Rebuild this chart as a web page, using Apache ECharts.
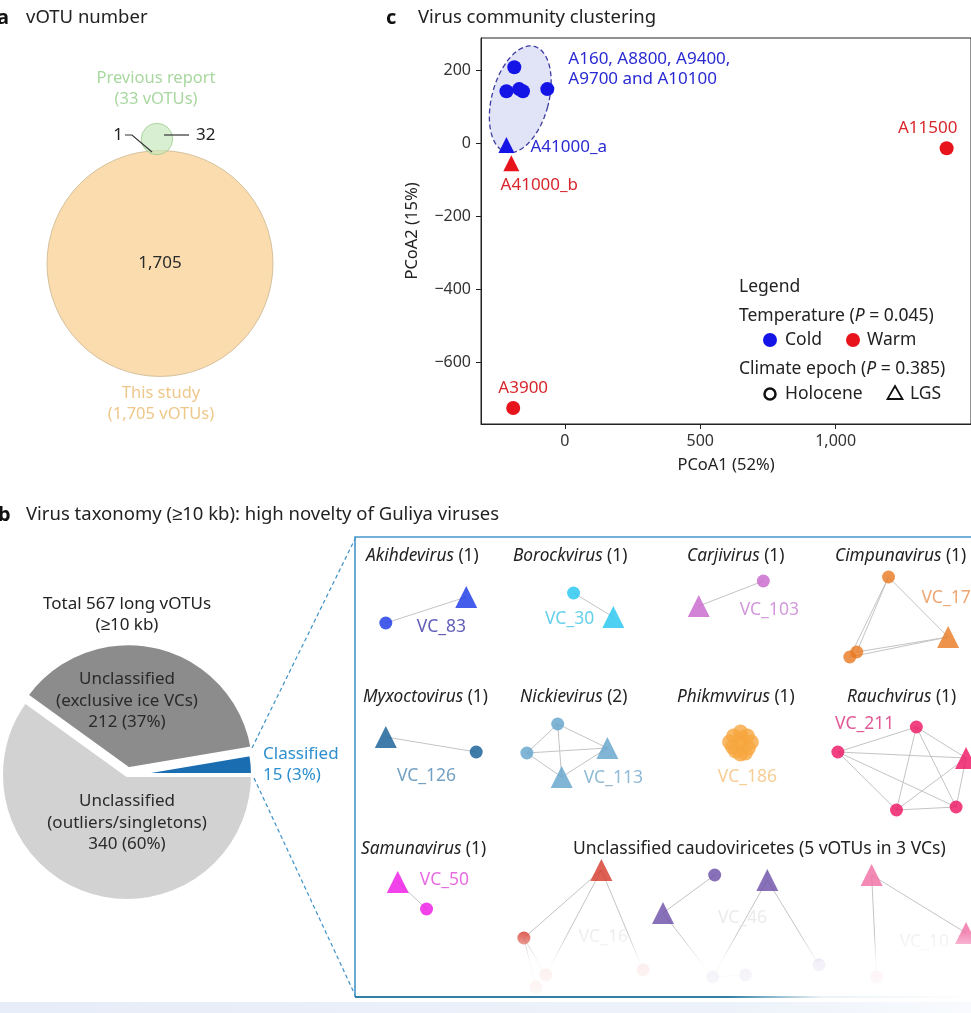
<!DOCTYPE html>
<html>
<head>
<meta charset="utf-8">
<script src="https://cdn.jsdelivr.net/npm/echarts@6/dist/echarts.min.js"></script>
<style>
html,body{margin:0;padding:0;background:#ffffff;overflow:hidden;}
#chart{width:971px;height:1013px;}
</style>
</head>
<body>
<div id="chart"></div>
<script>
// ================= DATA =================
// Panel a: Venn diagram of vOTU counts
const vennSetNames = ['This study', 'Previous report'];
const vennTotals = [1705, 33];
const vennCentreCount = 1705;
const vennSharedCount = 1;
const vennPreviousOnly = 32;
const vennLayoutX = [160, 157];      // layout units of the hidden Venn plane
const vennLayoutY = [263.5, 139];

// Panel c: PCoA of virus communities
const sampleNames = ['A160', 'A8800', 'A9400', 'A9700', 'A10100', 'A41000_a', 'A41000_b', 'A11500', 'A3900'];
const pcoa1 = [-187, -216, -169, -155, -65, -216, -198, 1410, -191];
const pcoa2 = [208, 142, 148, 142, 148, -5, -55, -14, -726];
const sampleTemperature = ['Cold', 'Cold', 'Cold', 'Cold', 'Cold', 'Cold', 'Warm', 'Warm', 'Warm'];
const sampleEpoch = ['Holocene', 'Holocene', 'Holocene', 'Holocene', 'Holocene', 'LGS', 'LGS', 'Holocene', 'Holocene'];
const pcoa1Ticks = [0, 500, 1000];
const pcoa2Ticks = [-600, -400, -200, 0, 200];
const clusterEllipse = [-165, 120, 105, 150];   // centre PCoA1, centre PCoA2, half-width, half-height
const pTemperature = 0.045;
const pEpoch = 0.385;

// Panel b: taxonomy pie
const pieNames = ['Classified', 'Unclassified', 'Unclassified'];
const pieSubNames = ['', '(outliers/singletons)', '(exclusive ice VCs)'];
const pieValues = [15, 340, 212];

// Panel b: viral-cluster networks (layout units inside the network box)
const vcNames = ['VC_83', 'VC_30', 'VC_103', 'VC_170', 'VC_126', 'VC_113', 'VC_186', 'VC_211', 'VC_50', 'VC_16', 'VC_46', 'VC_10'];
const genusNames = ['Akihdevirus', 'Borockvirus', 'Carjivirus', 'Cimpunavirus', 'Myxoctovirus', 'Nickievirus', 'Phikmvvirus', 'Rauchvirus', 'Samunavirus'];
const genusCounts = [1, 1, 1, 1, 1, 2, 1, 1, 1];
const unclassifiedTitle = 'Unclassified caudoviricetes (5 vOTUs in 3 VCs)';
const nodeX = [31, 112, 220, 260, 411, 346, 537, 597, 498, 505, 31, 122, 204, 173, 254, 208,
  388, 381, 395, 380, 396, 388, 377, 399, 388, 383, 393, 389,
  486, 565, 615, 545, 605, 43, 72,
  248, 170, 192, 290, 182,
  310, 362, 415, 360, 467, 393,
  520, 615, 525];
const nodeY = [86, 60, 56, 80, 44, 69, 40, 100, 120, 115, 200, 215, 187, 216, 211, 240,
  206, 199, 199, 210, 211, 195, 205, 205, 217, 214, 216, 201,
  215, 190, 221, 273, 270, 345, 372,
  333, 401, 438, 433, 450,
  376, 338, 343, 440, 428, 438,
  338, 396, 440];
const nodeShape = ['c', 't', 'c', 't', 'c', 't', 'c', 't', 'c', 'c', 't', 'c', 'c', 'c', 't', 't',
  'c', 'c', 'c', 'c', 'c', 'c', 'c', 'c', 'c', 'c', 'c', 'c',
  'c', 'c', 't', 'c', 'c', 't', 'c',
  't', 'c', 'c', 'c', 'c',
  't', 'c', 't', 'c', 'c', 'c',
  't', 't', 'c'];
const nodeVC = [0, 0, 1, 1, 2, 2, 3, 3, 3, 3, 4, 4, 5, 5, 5, 5,
  6, 6, 6, 6, 6, 6, 6, 6, 6, 6, 6, 6,
  7, 7, 7, 7, 7, 8, 8,
  9, 9, 9, 9, 9,
  10, 10, 10, 10, 10, 10,
  11, 11, 11];
const edges = [[0, 1], [2, 3], [4, 5],
  [6, 8], [6, 9], [6, 7], [7, 8], [7, 9],
  [10, 11],
  [12, 13], [12, 14], [12, 15], [13, 14], [13, 15], [14, 15],
  [28, 29], [28, 30], [28, 31], [28, 32], [29, 30], [29, 31], [29, 32], [30, 31], [30, 32], [31, 32],
  [33, 34],
  [35, 36], [35, 37], [35, 38], [36, 37], [36, 39],
  [40, 41], [40, 43], [42, 43], [42, 44], [43, 45],
  [46, 47], [46, 48]];
const vcLabelX = [87, 216, 417, 600, 72, 260, 395, 513, 90, 250, 390, 573];
const vcLabelY = [90, 82, 73, 61, 239, 241, 240, 187, 343, 400, 381, 405];

// ================= STYLE =================
const FONT = '"Noto Sans", "Liberation Sans", Arial, sans-serif';
const BLUE = '#1414e6', RED = '#e8141c';
const vcColors = ['#1535e6', '#20c4ef', '#c764cc', '#e9781f', '#0f5b95', '#62a2ca', '#f6a63f', '#ee1262', '#ee14e4', '#d6382b', '#6a4ea6', '#f06ba2'];
const vcLabelColors = ['#3a36a8', '#40c4e6', '#c77fd2', '#ea9150', '#5089b5', '#74a9cc', '#f4c27a', '#d8317a', '#e14ad9', '#e9e9e9', '#e6e6e6', '#ececec'];

function T(x, y, text, o) {
  o = o || {};
  const fs = o.size || 15;
  return {
    type: 'text', x: x, y: y, z: o.z || 50, silent: true,
    style: {
      text: text, fill: o.color || '#222', fontSize: fs, fontFamily: FONT,
      fontWeight: o.weight || 'normal', fontStyle: o.style || 'normal',
      align: o.align || 'left', verticalAlign: 'middle', lineHeight: o.lh || Math.round(fs * 1.35),
      rich: {
        i: { fontStyle: 'italic', fontSize: fs, fontFamily: FONT, fill: o.color || '#222' },
        n: { fontSize: fs, fontFamily: FONT, fill: o.color || '#222' }
      }
    }
  };
}
function fmtNum(v) {
  const s = Math.abs(v).toLocaleString('en-US');
  return v < 0 ? '\u2212' + s : s;
}

// ================= BUILD =================
const chart = echarts.init(document.getElementById('chart'), null, { renderer: 'canvas' });

// Venn circles: diameter proportional to sqrt(count)
const vennK = 2.736;
const vennData = vennTotals.map((n, i) => ({
  value: [vennLayoutX[i], vennLayoutY[i]],
  symbolSize: 2 * vennK * Math.sqrt(n),
  itemStyle: i === 0
    ? { color: '#fad39a', borderColor: '#cbb590', borderWidth: 1 }
    : { color: 'rgba(199,231,188,0.85)', borderColor: '#9ccc90', borderWidth: 1 }
}));

// PCoA points
function pcoaSeries(temp, color, labelColor) {
  const data = [];
  sampleNames.forEach((nm, i) => {
    if (sampleTemperature[i] !== temp) return;
    data.push({
      name: nm, value: [pcoa1[i], pcoa2[i]],
      symbol: sampleEpoch[i] === 'LGS' ? 'triangle' : 'circle',
      symbolSize: sampleEpoch[i] === 'LGS' ? 16 : 14,
      label: { show: false }
    });
  });
  return {
    type: 'scatter', name: temp, xAxisIndex: 1, yAxisIndex: 1, z: 5, silent: true,
    itemStyle: { color: color, opacity: 1 },
    label: { color: labelColor, fontSize: 17, fontFamily: FONT },
    data: data
  };
}
const coldSeries = pcoaSeries('Cold', BLUE, '#2a2ad2');
const warmSeries = pcoaSeries('Warm', RED, '#d8262c');
function setLabel(series, name, lab) {
  series.data.forEach(d => { if (d.name === name) d.label = Object.assign({ show: true, formatter: lab.text || '{b}' }, lab); });
}
setLabel(coldSeries, 'A10100', { text: 'A160, A8800, A9400,\nA9700 and A10100', position: 'right', distance: 14, offset: [0, -20], lineHeight: 20, align: 'left' });
setLabel(coldSeries, 'A41000_a', { position: 'right', distance: 16, offset: [0, 2] });
setLabel(warmSeries, 'A41000_b', { position: 'bottom', distance: 6, offset: [28, 0] });
setLabel(warmSeries, 'A11500', { position: 'top', distance: 4, offset: [-19, -1] });
setLabel(warmSeries, 'A3900', { position: 'top', distance: 4, offset: [10, 0] });

// Pie
const pieTotal = pieValues.reduce((a, b) => a + b, 0);
const pieColors = ['#1b6db2', '#d2d2d2', '#8c8c8c'];
const pieData = pieValues.map((v, i) => ({
  name: pieNames[i] + ' ' + pieSubNames[i], value: v,
  selected: i === 2,
  itemStyle: { color: pieColors[i] }
}));
const piePct = pieValues.map(v => Math.round(v / pieTotal * 100));

// Network
const netNodes = nodeX.map((x, i) => {
  const tri = nodeShape[i] === 't';
  return {
    value: [x, nodeY[i]],
    symbol: tri ? 'triangle' : 'circle',
    symbolSize: tri ? 22 : (nodeVC[i] === 6 ? 15 : 13),
    itemStyle: { color: vcColors[nodeVC[i]] }
  };
});
const netEdges = edges.map(e => ({ coords: [[nodeX[e[0]], nodeY[e[0]]], [nodeX[e[1]], nodeY[e[1]]]] }));
const netLabels = vcNames.map((nm, i) => ({
  name: nm, value: [vcLabelX[i], vcLabelY[i]],
  label: { color: vcLabelColors[i] }
}));

const hiddenAxis = { type: 'value', show: false, splitLine: { show: false } };

// Graphic elements (text & annotations)
const g = [];
// panel headings
g.push(T(-3, 18, 'a', { weight: 'bold', size: 20, color: '#111' }));
g.push(T(26, 18, 'vOTU number', { size: 18.5 }));
g.push(T(386, 18, 'c', { weight: 'bold', size: 20, color: '#111' }));
g.push(T(418, 18, 'Virus community clustering', { size: 18.5 }));
g.push(T(-2, 515, 'b', { weight: 'bold', size: 20, color: '#111' }));
g.push(T(26, 515, 'Virus taxonomy (\u226510 kb): high novelty of Guliya viruses', { size: 18.5 }));
// Venn texts
g.push(T(156, 89, vennSetNames[1] + '\n(' + vennTotals[1] + ' vOTUs)', { align: 'center', color: '#a9d7a0', size: 16.5, lh: 21 }));
g.push(T(161, 404, vennSetNames[0] + '\n(' + fmtNum(vennTotals[0]) + ' vOTUs)', { align: 'center', color: '#eec78b', size: 16.5, lh: 21 }));
g.push(T(160, 263, fmtNum(vennCentreCount), { align: 'center', size: 17, color: '#2a2a2a' }));
g.push(T(123, 135, String(vennSharedCount), { align: 'right', size: 17 }));
g.push(T(196, 135, String(vennPreviousOnly), { size: 17 }));
g.push({ type: 'polyline', z: 60, silent: true, shape: { points: [[125, 135], [132, 135], [152, 152]] }, style: { stroke: '#333', lineWidth: 1.2, fill: null } });
g.push({ type: 'line', z: 60, silent: true, shape: { x1: 164, y1: 135, x2: 189, y2: 135 }, style: { stroke: '#333', lineWidth: 1.2 } });
// PCoA legend
g.push(T(739, 287, 'Legend', { size: 17.5 }));
g.push(T(739, 316, 'Temperature ({i|P} = ' + pTemperature + ')', { size: 17.5 }));
g.push({ type: 'circle', z: 50, silent: true, shape: { cx: 770, cy: 340, r: 7 }, style: { fill: BLUE } });
g.push(T(785, 340, 'Cold', { size: 17.5 }));
g.push({ type: 'circle', z: 50, silent: true, shape: { cx: 853, cy: 340, r: 7 }, style: { fill: RED } });
g.push(T(867, 340, 'Warm', { size: 17.5 }));
g.push(T(739, 369, 'Climate epoch ({i|P} = ' + pEpoch + ')', { size: 17.5 }));
g.push({ type: 'circle', z: 50, silent: true, shape: { cx: 770, cy: 394, r: 5.5 }, style: { fill: null, stroke: '#111', lineWidth: 2.5 } });
g.push(T(785, 394, 'Holocene', { size: 17.5 }));
g.push({ type: 'polygon', z: 50, silent: true, shape: { points: [[895, 386], [902.5, 399], [887.5, 399]] }, style: { fill: null, stroke: '#111', lineWidth: 1.8 } });
g.push(T(910, 394, 'LGS', { size: 17.5 }));
// Pie texts
g.push(T(127, 615, 'Total ' + pieTotal + ' long vOTUs\n(\u226510 kb)', { align: 'center', size: 17, lh: 21 }));
g.push(T(127, 701, pieNames[2] + '\n' + pieSubNames[2] + '\n' + pieValues[2] + ' (' + piePct[2] + '%)', { align: 'center', size: 17, lh: 21.5, color: '#2a2a2a' }));
g.push(T(127, 823, pieNames[1] + '\n' + pieSubNames[1] + '\n' + pieValues[1] + ' (' + piePct[1] + '%)', { align: 'center', size: 17, lh: 21.5, color: '#2a2a2a' }));
g.push(T(263, 765, pieNames[0] + '\n' + pieValues[0] + ' (' + piePct[0] + '%)', { size: 17, lh: 21, color: '#2e8fcf' }));
// connectors and box
g.push({ type: 'polyline', z: 40, silent: true, shape: { points: [[252, 748], [356, 537]] }, style: { stroke: '#3d92c9', lineWidth: 1.2, lineDash: [4, 3], fill: null } });
g.push({ type: 'polyline', z: 40, silent: true, shape: { points: [[254, 778], [356, 997]] }, style: { stroke: '#3d92c9', lineWidth: 1.2, lineDash: [4, 3], fill: null } });
g.push({ type: 'polyline', z: 40, silent: true, shape: { points: [[355, 997], [355, 537], [980, 537]] }, style: { stroke: '#4595c9', lineWidth: 1.6, fill: null } });
// network titles
const titleX = [366, 513, 687, 835, 363, 520, 677, 847, 361];
const titleY = [556, 556, 556, 556, 697, 697, 697, 697, 849];
genusNames.forEach((gn, i) => g.push(T(titleX[i], titleY[i], '{i|' + gn + '}{n| (' + genusCounts[i] + ')}', { size: 17.3 })));
g.push(T(573, 849, unclassifiedTitle, { size: 17.5 }));
// bottom fade (screenshot fade) and base strip
g.push({ type: 'rect', z: 100, silent: true, shape: { x: 440, y: 932, width: 540, height: 66 },
  style: { fill: { type: 'linear', x: 0, y: 0, x2: 0, y2: 1, colorStops: [{ offset: 0, color: 'rgba(255,255,255,0)' }, { offset: 0.45, color: 'rgba(255,255,255,0.9)' }, { offset: 1, color: 'rgba(255,255,255,0.96)' }] } } });
g.push({ type: 'rect', z: 101, silent: true, shape: { x: 355, y: 996, width: 620, height: 2 },
  style: { fill: { type: 'linear', x: 0, y: 0, x2: 1, y2: 0, colorStops: [{ offset: 0, color: '#2f7fa6' }, { offset: 0.6, color: '#2f7fa6' }, { offset: 0.75, color: 'rgba(47,127,166,0.1)' }, { offset: 1, color: 'rgba(47,127,166,0)' }] } } });
g.push({ type: 'rect', z: 101, silent: true, shape: { x: 0, y: 1002, width: 971, height: 11 },
  style: { fill: { type: 'linear', x: 0, y: 0, x2: 1, y2: 0, colorStops: [{ offset: 0, color: '#e7edf8' }, { offset: 0.75, color: '#edf2fa' }, { offset: 1, color: '#f8fafd' }] } } });

const option = {
  animation: false,
  backgroundColor: '#ffffff',
  textStyle: { fontFamily: FONT },
  grid: [
    { left: 0, top: 0, width: 320, height: 430 },
    { left: 481, top: 38, width: 503, height: 386, show: true, borderColor: '#222', borderWidth: 1, backgroundColor: 'transparent' },
    { left: 355, top: 537, width: 620, height: 461 }
  ],
  xAxis: [
    Object.assign({ gridIndex: 0, min: 0, max: 320 }, hiddenAxis),
    {
      gridIndex: 1, type: 'value', min: -310, max: 1500,
      axisLine: { show: true, onZero: false, lineStyle: { color: '#222', width: 1 } },
      axisTick: { show: true, length: 5, customValues: pcoa1Ticks, lineStyle: { color: '#222' } },
      axisLabel: { customValues: pcoa1Ticks, formatter: fmtNum, color: '#333', fontSize: 16, fontFamily: FONT, margin: 9 },
      splitLine: { show: false },
      name: 'PCoA1 (52%)', nameLocation: 'middle', nameGap: 33,
      nameTextStyle: { color: '#222', fontSize: 16.5, fontFamily: FONT }
    },
    Object.assign({ gridIndex: 2, min: 0, max: 620 }, hiddenAxis)
  ],
  yAxis: [
    Object.assign({ gridIndex: 0, min: 0, max: 430, inverse: true }, hiddenAxis),
    {
      gridIndex: 1, type: 'value', min: -770, max: 288,
      axisLine: { show: true, onZero: false, lineStyle: { color: '#222', width: 1 } },
      axisTick: { show: true, length: 5, customValues: pcoa2Ticks, lineStyle: { color: '#222' } },
      axisLabel: { customValues: pcoa2Ticks, formatter: fmtNum, color: '#333', fontSize: 16, fontFamily: FONT, margin: 10 },
      splitLine: { show: false },
      name: 'PCoA2 (15%)', nameLocation: 'middle', nameGap: 60, nameRotate: 90,
      nameTextStyle: { color: '#222', fontSize: 16.5, fontFamily: FONT }
    },
    Object.assign({ gridIndex: 2, min: 0, max: 461, inverse: true }, hiddenAxis)
  ],
  series: [
    { type: 'scatter', xAxisIndex: 0, yAxisIndex: 0, silent: true, symbol: 'circle', data: vennData, z: 3 },
    {
      type: 'custom', xAxisIndex: 1, yAxisIndex: 1, silent: true, z: 3,
      data: [[clusterEllipse[0], clusterEllipse[1]]],
      renderItem: function (params, api) {
        const c = api.coord([api.value(0), api.value(1)]);
        const rx = api.size([clusterEllipse[2], 0])[0];
        const ry = api.size([0, clusterEllipse[3]])[1];
        const a = 15 * Math.PI / 180, ca = Math.cos(a), sa = Math.sin(a);
        const pts = [];
        for (let k = 0; k <= 90; k++) {
          const t = k / 90 * 2 * Math.PI;
          const x = rx * Math.cos(t), y = ry * Math.sin(t);
          pts.push([c[0] + x * ca - y * sa, c[1] + x * sa + y * ca]);
        }
        return { type: 'polygon', shape: { points: pts }, style: { fill: 'rgba(168,176,232,0.35)', stroke: '#3c3c9e', lineWidth: 1.3, lineDash: [5, 3] } };
      }
    },
    coldSeries,
    warmSeries,
    {
      type: 'pie', center: [127, 775], radius: 126, startAngle: 360 * pieValues[0] / pieTotal, clockwise: true,
      silent: true, selectedMode: 'multiple', selectedOffset: 6,
      label: { show: false }, labelLine: { show: false },
      itemStyle: { borderColor: '#ffffff', borderWidth: 4 },
      emphasis: { disabled: true },
      data: pieData
    },
    {
      type: 'lines', coordinateSystem: 'cartesian2d', xAxisIndex: 2, yAxisIndex: 2, silent: true, z: 3,
      lineStyle: { color: '#c4c4c4', width: 1, opacity: 1 },
      data: netEdges
    },
    { type: 'scatter', xAxisIndex: 2, yAxisIndex: 2, silent: true, z: 4, data: netNodes },
    {
      type: 'scatter', xAxisIndex: 2, yAxisIndex: 2, silent: true, z: 6, symbolSize: 0,
      label: { show: true, position: 'inside', formatter: '{b}', fontSize: 17.5, fontFamily: FONT },
      data: netLabels
    }
  ],
  graphic: { elements: g }
};
chart.setOption(option);
</script>
</body>
</html>
